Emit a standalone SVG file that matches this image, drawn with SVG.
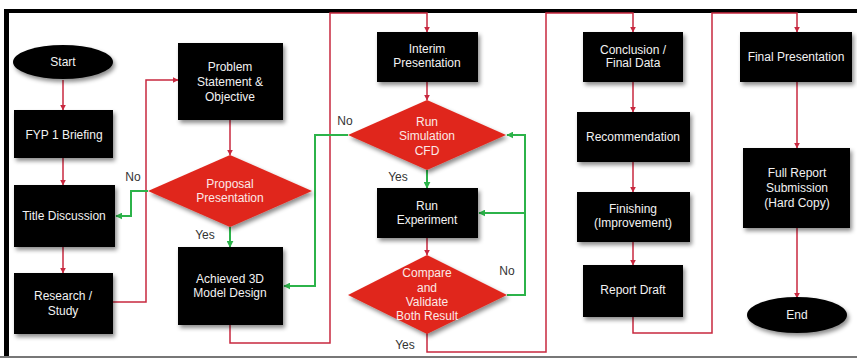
<svg xmlns="http://www.w3.org/2000/svg" width="857" height="360" viewBox="0 0 857 360">
<style>
.box{fill:#050505;filter:url(#sh)}
.dia{fill:#e0281f;filter:url(#sh)}
.t{font-family:"Liberation Sans",Arial,sans-serif;font-size:12px;fill:#f2f2f2;text-anchor:middle}
.dt{fill:#fbe9e7}
.lbl{font-family:"Liberation Sans",Arial,sans-serif;font-size:12px;fill:#333;text-anchor:middle}
.r{fill:none;stroke:#c8283f;stroke-width:1.5}
.g{fill:none;stroke:#2cb34a;stroke-width:2}
</style>
<defs>
<filter id="sh" x="-20%" y="-20%" width="150%" height="150%">
<feDropShadow dx="2" dy="3" stdDeviation="2" flood-color="#000" flood-opacity="0.45"/>
</filter>
<marker id="ar" viewBox="0 0 10 10" refX="9" refY="5" markerWidth="6" markerHeight="6" orient="auto" markerUnits="userSpaceOnUse">
<path d="M0,0 L10,5 L0,10 z" fill="#c8283f"/>
</marker>
<marker id="ag" viewBox="0 0 10 10" refX="9" refY="5" markerWidth="7" markerHeight="7" orient="auto" markerUnits="userSpaceOnUse">
<path d="M0,0 L10,5 L0,10 z" fill="#2cb34a"/>
</marker>
</defs>
<rect width="857" height="360" fill="#ffffff"/>
<g id="frame">
<rect x="4" y="9" width="853" height="4" fill="#000"/>
<rect x="4" y="9" width="5" height="349" fill="#000"/>
<rect x="0" y="356" width="857" height="2" fill="#777"/>
</g>
<g id="connectors">
<path class="r" d="M63,80 V110" marker-end="url(#ar)"/>
<path class="r" d="M63,158 V185" marker-end="url(#ar)"/>
<path class="r" d="M63,247 V273" marker-end="url(#ar)"/>
<path class="r" d="M113,302 H146 V80 H178" marker-end="url(#ar)"/>
<path class="r" d="M230,120 V155" marker-end="url(#ar)"/>
<path class="g" d="M148,191 H131 V216 H116" marker-end="url(#ag)"/>
<path class="g" d="M230,227 V247" marker-end="url(#ag)"/>
<path class="r" d="M230,325 V343 H330 V13 H427 V32" marker-end="url(#ar)"/>
<path class="r" d="M427,82 V100" marker-end="url(#ar)"/>
<path class="g" d="M348,135 H315 V286 H284" marker-end="url(#ag)"/>
<path class="g" d="M427,170 V188" marker-end="url(#ag)"/>
<path class="r" d="M427,238 V255" marker-end="url(#ar)"/>
<path class="g" d="M507,295 H525 V135 H507" marker-end="url(#ag)"/>
<path class="g" d="M525,213 H479" marker-end="url(#ag)"/>
<path class="r" d="M427,333 V352 H546 V13 H633 V32" marker-end="url(#ar)"/>
<path class="r" d="M633,82 V112" marker-end="url(#ar)"/>
<path class="r" d="M633,162 V192" marker-end="url(#ar)"/>
<path class="r" d="M633,242 V265" marker-end="url(#ar)"/>
<path class="r" d="M633,317 V333 H712 V13 H797 V32" marker-end="url(#ar)"/>
<path class="r" d="M797,82 V148" marker-end="url(#ar)"/>
<path class="r" d="M797,228 V298" marker-end="url(#ar)"/>
<text class="lbl" x="133" y="181">No</text>
<text class="lbl" x="205" y="239">Yes</text>
<text class="lbl" x="345" y="125">No</text>
<text class="lbl" x="398" y="181">Yes</text>
<text class="lbl" x="507" y="275">No</text>
<text class="lbl" x="405" y="349">Yes</text>
</g>
<g id="start"><ellipse class="box" cx="63" cy="62" rx="50" ry="17"/><text class="t" x="63" y="66">Start</text></g>
<g id="fyp"><rect class="box" x="14" y="110" width="99" height="48"/><text class="t" x="64" y="139">FYP 1 Briefing</text></g>
<g id="title"><rect class="box" x="14" y="185" width="101" height="62"/><text class="t" x="64" y="220">Title Discussion</text></g>
<g id="research"><rect class="box" x="14" y="273" width="99" height="61"/><text class="t" x="63" y="300">Research /</text><text class="t" x="63" y="315">Study</text></g>
<g id="problem"><rect class="box" x="178" y="43" width="105" height="77"/><text class="t" x="230" y="71">Problem</text><text class="t" x="230" y="86">Statement &amp;</text><text class="t" x="230" y="101">Objective</text></g>
<g id="proposal"><polygon class="dia" points="230,155 312,191 230,227 148,191"/><text class="t dt" x="230" y="188">Proposal</text><text class="t dt" x="230" y="202">Presentation</text></g>
<g id="achieved"><rect class="box" x="178" y="247" width="105" height="78"/><text class="t" x="230" y="283">Achieved 3D</text><text class="t" x="230" y="297">Model Design</text></g>
<g id="interim"><rect class="box" x="377" y="32" width="101" height="50"/><text class="t" x="427" y="53">Interim</text><text class="t" x="427" y="67">Presentation</text></g>
<g id="runsim"><polygon class="dia" points="427,100 506,135 427,170 348,135"/><text class="t dt" x="427" y="126">Run</text><text class="t dt" x="427" y="140">Simulation</text><text class="t dt" x="427" y="155">CFD</text></g>
<g id="runexp"><rect class="box" x="377" y="188" width="101" height="50"/><text class="t" x="427" y="210">Run</text><text class="t" x="427" y="224">Experiment</text></g>
<g id="compare"><polygon class="dia" points="427,255 507,295 427,334 348,295"/><text class="t dt" x="427" y="277">Compare</text><text class="t dt" x="427" y="292">and</text><text class="t dt" x="427" y="306">Validate</text><text class="t dt" x="427" y="320">Both Result</text></g>
<g id="conclusion"><rect class="box" x="583" y="32" width="100" height="50"/><text class="t" x="633" y="54">Conclusion /</text><text class="t" x="633" y="67">Final Data</text></g>
<g id="recommendation"><rect class="box" x="577" y="112" width="113" height="50"/><text class="t" x="633" y="141">Recommendation</text></g>
<g id="finishing"><rect class="box" x="577" y="192" width="113" height="50"/><text class="t" x="633" y="213">Finishing</text><text class="t" x="633" y="227">(Improvement)</text></g>
<g id="draft"><rect class="box" x="583" y="265" width="100" height="52"/><text class="t" x="633" y="294">Report Draft</text></g>
<g id="final"><rect class="box" x="740" y="32" width="112" height="50"/><text class="t" x="796" y="61">Final Presentation</text></g>
<g id="fullreport"><rect class="box" x="743" y="148" width="107" height="80"/><text class="t" x="797" y="177">Full Report</text><text class="t" x="797" y="192">Submission</text><text class="t" x="797" y="207">(Hard Copy)</text></g>
<g id="end"><ellipse class="box" cx="797" cy="315" rx="50" ry="18"/><text class="t" x="797" y="319">End</text></g>
</svg>
